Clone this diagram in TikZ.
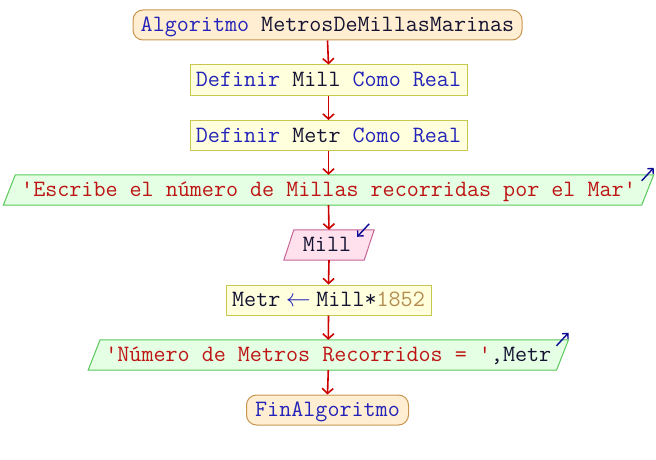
\documentclass[tikz,border=0pt]{standalone}
\usepackage{fontspec}
\usetikzlibrary{arrows.meta,backgrounds,calc}

% syntax colours
\definecolor{kwcol}{RGB}{35,35,185}
\definecolor{idcol}{RGB}{20,20,50}
\definecolor{strcol}{RGB}{190,20,20}
\definecolor{numcol}{RGB}{180,140,80}
% shape colours
\definecolor{flowred}{RGB}{205,0,0}
\definecolor{procfill}{RGB}{255,255,221}
\definecolor{procborder}{RGB}{200,200,80}
\definecolor{termfill}{RGB}{255,238,210}
\definecolor{termborder}{RGB}{200,150,80}
\definecolor{outfill}{RGB}{228,255,228}
\definecolor{outborder}{RGB}{90,200,90}
\definecolor{infill}{RGB}{255,225,238}
\definecolor{inborder}{RGB}{200,100,150}
\definecolor{ioblue}{RGB}{10,10,150}

\newcommand\kw[1]{\textcolor{kwcol}{#1}}
\newcommand\idf[1]{\textcolor{idcol}{#1}}
\newcommand\str[1]{\textcolor{strcol}{#1}}
\newcommand\num[1]{\textcolor{numcol}{#1}}

\tikzset{
  x=1pt, y=-1pt,
  txt/.style={font=\ttfamily\fontsize{23.4}{27}\selectfont, text height=16pt,
    text depth=3pt, inner sep=0pt, minimum height=30pt},
  procbox/.style={txt, draw=procborder, fill=procfill, line width=1pt, minimum width=#1},
  termbox/.style={txt, draw=termborder, fill=termfill, line width=1pt,
    rounded corners=10pt, minimum width=#1},
  iobox/.style={txt, minimum width=#1},
  outshape/.style={draw=outborder, fill=outfill, line width=1pt},
  inshape/.style={draw=inborder, fill=infill, line width=1pt},
  flow/.style={draw=flowred, line width=1.6pt,
    -{Straight Barb[length=5pt,width=11pt,line width=1.6pt]}},
  ioarrow/.style={draw=ioblue, line width=1.4pt,
    -{Straight Barb[length=4pt,width=8pt,line width=1.4pt]}},
}

\begin{document}
\begin{tikzpicture}
\useasboundingbox (0,0) rectangle (656,460);

\node[termbox=389] (start) at (327.5,25)
  {\kw{Algoritmo} \idf{MetrosDeMillasMarinas}};
\node[procbox=277] (d1) at (328.5,80)
  {\kw{Definir} \idf{Mill} \kw{Como} \kw{Real}};
\node[procbox=277] (d2) at (328.5,135.5)
  {\kw{Definir} \idf{Metr} \kw{Como} \kw{Real}};
\node[iobox=638] (o1) at (328.5,190)
  {\str{'Escribe el número de Millas recorridas por el Mar'}};
\node[iobox=80] (in) at (329,245) {\hspace*{-4pt}\idf{Mill}};
\node[procbox=205] (as) at (328.5,300)
  {\idf{Metr}\makebox[36pt]{\color{kwcol}$\leftarrow$}\idf{Mill*}\num{1852}};
\node[iobox=468] (o2) at (328.3,355)
  {\str{'Número de Metros Recorridos = '}\idf{,Metr}};
\node[termbox=162] (end) at (327.5,410) {\kw{FinAlgoritmo}};

% slanted input / output shapes behind their texts
\begin{scope}[on background layer]
  \path[outshape] ($(o1.south west)+(-6,0)$) -- ($(o1.north west)+(6,0)$)
    -- ($(o1.north east)+(6,0)$) -- ($(o1.south east)+(-6,0)$) -- cycle;
  \path[inshape] ($(in.south west)+(-5,0)$) -- ($(in.north west)+(5,0)$)
    -- ($(in.north east)+(5,0)$) -- ($(in.south east)+(-5,0)$) -- cycle;
  \path[outshape] ($(o2.south west)+(-6,0)$) -- ($(o2.north west)+(6,0)$)
    -- ($(o2.north east)+(6,0)$) -- ($(o2.south east)+(-6,0)$) -- cycle;
\end{scope}

% direction marks on the input / output shapes
\coordinate (o1c) at ($(o1.north east)+(6,0)$);
\coordinate (o1a) at ($(o1c)+(-12,6)$);
\coordinate (o1b) at ($(o1c)+(0,-7)$);
\draw[ioarrow] (o1a) -- (o1b);
\coordinate (inc) at ($(in.north east)+(5,0)$);
\coordinate (ina) at ($(inc)+(-5,-6)$);
\coordinate (inb) at ($(inc)+(-17,7)$);
\draw[ioarrow] (ina) -- (inb);
\coordinate (o2c) at ($(o2.north east)+(6,0)$);
\coordinate (o2a) at ($(o2c)+(-12,6)$);
\coordinate (o2b) at ($(o2c)+(0,-7)$);
\draw[ioarrow] (o2a) -- (o2b);

% control flow
\draw[flow] (start.south) -- (d1.north);
\draw[flow] (d1.south) -- (d2.north);
\draw[flow] (d2.south) -- (o1.north);
\draw[flow] (o1.south) -- (in.north);
\draw[flow] (in.south) -- (as.north);
\draw[flow] (as.south) -- (o2.north);
\draw[flow] (o2.south) -- (end.north);
\end{tikzpicture}
\end{document}
